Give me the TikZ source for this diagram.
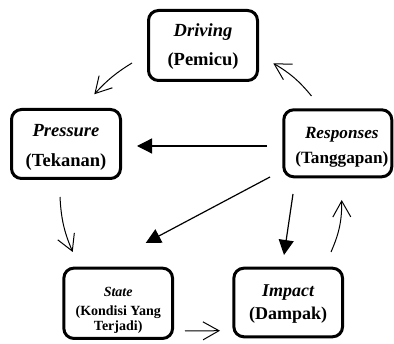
\documentclass[tikz,border=0pt]{standalone}
\usepackage{fontspec}
\setmainfont{Liberation Serif}
\usetikzlibrary{arrows.meta}
\newcommand\mystrut[1]{\rule{0pt}{#1}}
\begin{document}
\begin{tikzpicture}[x=1pt,y=-1pt,
  box/.style={draw, line width=3pt, rounded corners=10pt, align=center, inner sep=0pt},
  openarr/.style={line width=1pt, -{Straight Barb[length=16pt,width=18pt,line width=1pt]}},
  fillarr/.style={line width=1.2pt, -{Triangle[length=15pt,width=15pt]}}]
\useasboundingbox (0,0) rectangle (394,344);

\node[box, minimum width=109pt, minimum height=70pt,
  font=\fontsize{18.5}{29}\selectfont\bfseries] (drv) at (203,45.5)
  {\mystrut{15pt}{\itshape Driving}\\(Pemicu)};
\node[box, minimum width=109pt, minimum height=69pt,
  font=\fontsize{18.5}{30}\selectfont\bfseries] (prs) at (66,144)
  {\mystrut{18.5pt}{\itshape Pressure}\\(Tekanan)};
\node[box, minimum width=108pt, minimum height=67pt,
  font=\fontsize{17.2}{25}\selectfont\bfseries] (rsp) at (337.8,143.3)
  {\hspace*{8pt}\mystrut{18.7pt}{\itshape Responses}\\\hspace*{8pt}(Tanggapan)};
\node[box, minimum width=108.7pt, minimum height=70.3pt,
  font=\fontsize{14}{15}\selectfont\bfseries] (sta) at (118.2,303.3)
  {\mystrut{22.5pt}{\itshape State}\\[4pt](Kondisi Yang\\Terjadi)};
\node[box, minimum width=108.7pt, minimum height=68.6pt,
  font=\fontsize{18}{23}\selectfont\bfseries] (imp) at (288.2,302.5)
  {\mystrut{14pt}{\itshape Impact}\\(Dampak)};

% curved open arrows (cycle)
\draw[openarr] ([shift={(-71,17.5)}]drv.center) to[bend right=8] ([shift={(28.3,-49.7)}]prs.center);
\draw[openarr] ([shift={(-6,53)}]prs.center) to[bend right=10] ([shift={(-45.5,-51.3)}]sta.center);
\draw[openarr] ([shift={(66.8,27.7)}]sta.center) -- ([shift={(-68.2,28.2)}]imp.center);
\draw[openarr] ([shift={(42.8,-50.5)}]imp.center) to[bend right=12] ([shift={(3.9,56.7)}]rsp.center);
\draw[openarr] ([shift={(-26.3,-47.3)}]rsp.center) to[bend right=10] ([shift={(70.3,17.8)}]drv.center);

% filled arrows from Responses
\draw[fillarr] ([shift={(-70.8,2.7)}]rsp.center) -- ([shift={(71,2)}]prs.center);
\draw[fillarr] ([shift={(-67.8,33.7)}]rsp.center) -- ([shift={(27.5,-60.3)}]sta.center);
\draw[fillarr] ([shift={(-44.8,50.7)}]rsp.center) -- ([shift={(-4.2,-47.5)}]imp.center);
\end{tikzpicture}
\end{document}
